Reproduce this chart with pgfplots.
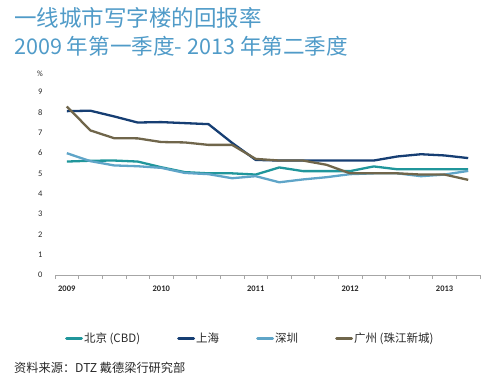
\documentclass[border=0pt]{standalone}
\usepackage{pgfplots}
\pgfplotsset{compat=1.18}
\usepackage{fontspec}
\setmainfont{Carlito}
\newfontfamily\cjk{Noto Sans CJK SC}
\definecolor{cteal}{RGB}{32,150,155}
\definecolor{cnavy}{RGB}{22,62,115}
\definecolor{clight}{RGB}{95,165,200}
\definecolor{colive}{RGB}{112,102,75}
\definecolor{ctitle}{RGB}{80,155,200}
\definecolor{ctext}{RGB}{40,40,40}
\begin{document}
\begin{tikzpicture}[x=1pt,y=1pt]
\path[use as bounding box] (0,0) rectangle (500,376);
\node[anchor=base west, inner sep=0, text=ctitle, font=\cjk\fontsize{22.5}{25}\selectfont] at (14,349) {一线城市写字楼的回报率};
\node[anchor=base west, inner sep=0, text=ctitle, font=\cjk\fontsize{21.6}{25}\selectfont] at (14,322) {2009 年第一季度- 2013 年第二季度};
\node[anchor=base, inner sep=0, text=ctext, font=\fontsize{8}{9}\selectfont] at (40,300) {\%};
\node[anchor=base west, inner sep=0, text=ctext, font=\cjk\fontsize{12.2}{14}\selectfont] at (14,4) {资料来源：DTZ 戴德梁行研究部};
\begin{axis}[
  at={(55pt,101pt)}, anchor=south west,
  scale only axis, width=425pt, height=183pt,
  xmin=0, xmax=18, ymin=0, ymax=9,
  axis y line*=left, axis x line*=bottom,
  y axis line style={draw=none},
  x axis line style={draw=gray!70},
  ytick={0,...,9},
  ytick style={draw=none},
  yticklabel style={font=\fontsize{8.5}{10}\selectfont, text=ctext, xshift=-5pt},
  xtick={0,...,18}, xticklabels={},
  xtick style={draw=gray!70, line width=0.6pt},
  major tick length=4pt,
  tick align=outside,
  extra x ticks={0.5,4.5,8.5,12.5,16.5},
  extra x tick labels={2009,2010,2011,2012,2013},
  extra x tick style={major tick length=0pt, tick style={draw=none}},
  xticklabel style={font=\bfseries\fontsize{8.5}{10}\selectfont, text=ctext, yshift=-7pt},
  /pgf/number format/assume math mode=true,
  clip=false,
  legend columns=4,
  legend style={at={(0.016,-0.345)}, anchor=west, draw=none, fill=none,
    font=\cjk\fontsize{11.5}{13}\selectfont, text=ctext,
    nodes={inner xsep=1pt},
    /tikz/every even column/.append style={column sep=36pt}},
  legend image code/.code={\draw[#1, line width=3pt, line cap=round] (0pt,0pt) -- (15pt,0pt);},
  every axis plot/.append style={line width=2.3pt, line join=round, mark=none},
]
\addplot[cteal] coordinates {(0.5,5.58) (1.5,5.62) (2.5,5.63) (3.5,5.58) (4.5,5.30) (5.5,5.06) (6.5,5.00) (7.5,5.00) (8.5,4.94) (9.5,5.29) (10.5,5.11) (11.5,5.11) (12.5,5.11) (13.5,5.34) (14.5,5.20) (15.5,5.20) (16.5,5.20) (17.5,5.20)};
\addlegendentry{北京 (CBD)}
\addplot[cnavy] coordinates {(0.5,8.06) (1.5,8.08) (2.5,7.80) (3.5,7.50) (4.5,7.52) (5.5,7.47) (6.5,7.42) (7.5,6.50) (8.5,5.66) (9.5,5.63) (10.5,5.63) (11.5,5.63) (12.5,5.63) (13.5,5.63) (14.5,5.83) (15.5,5.94) (16.5,5.88) (17.5,5.75)};
\addlegendentry{上海}
\addplot[clight] coordinates {(0.5,5.99) (1.5,5.60) (2.5,5.39) (3.5,5.35) (4.5,5.27) (5.5,5.02) (6.5,4.96) (7.5,4.76) (8.5,4.86) (9.5,4.56) (10.5,4.70) (11.5,4.81) (12.5,4.96) (13.5,5.00) (14.5,5.00) (15.5,4.86) (16.5,4.94) (17.5,5.12)};
\addlegendentry{深圳}
\addplot[colive] coordinates {(0.5,8.29) (1.5,7.11) (2.5,6.73) (3.5,6.72) (4.5,6.54) (5.5,6.52) (6.5,6.40) (7.5,6.40) (8.5,5.71) (9.5,5.63) (10.5,5.63) (11.5,5.42) (12.5,5.00) (13.5,5.00) (14.5,5.00) (15.5,4.94) (16.5,4.94) (17.5,4.68)};
\addlegendentry{广州 (珠江新城)}
\end{axis}
\end{tikzpicture}
\end{document}
